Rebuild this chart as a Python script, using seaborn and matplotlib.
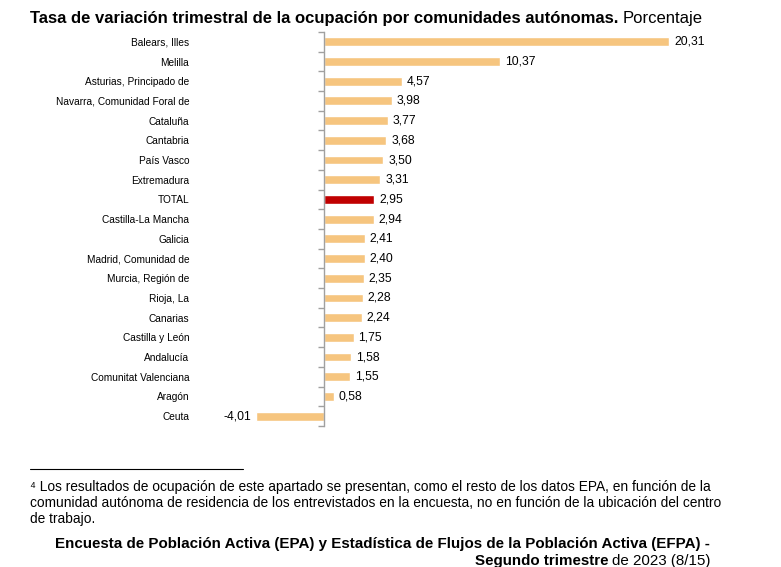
import matplotlib
matplotlib.use("Agg")
import matplotlib.pyplot as plt
from matplotlib.ticker import FixedLocator
import pandas as pd
import seaborn as sns

sns.set_theme(style="white")
plt.rcParams['font.family'] = ['Liberation Sans', 'DejaVu Sans']
plt.rcParams['text.color'] = 'black'

regions = ["Balears, Illes", "Melilla", "Asturias, Principado de",
           "Navarra, Comunidad Foral de", "Cataluña", "Cantabria", "País Vasco",
           "Extremadura", "TOTAL", "Castilla-La Mancha", "Galicia",
           "Madrid, Comunidad de", "Murcia, Región de", "Rioja, La", "Canarias",
           "Castilla y León", "Andalucía", "Comunitat Valenciana", "Aragón", "Ceuta"]
rates = [20.31, 10.37, 4.57, 3.98, 3.77, 3.68, 3.50, 3.31, 2.95, 2.94,
         2.41, 2.40, 2.35, 2.28, 2.24, 1.75, 1.58, 1.55, 0.58, -4.01]

bar_color = "#F6C57F"
total_color = "#C00000"

df = pd.DataFrame({"region": regions, "rate": rates})
palette = {r: (total_color if r == "TOTAL" else bar_color) for r in regions}

fig = plt.figure(figsize=(7.81, 5.67), dpi=100)
ax = fig.add_axes([0.306, 0.2487, 0.5875, 0.6949])

sns.barplot(data=df, x="rate", y="region", hue="region", palette=palette,
            order=regions, width=0.45, legend=False, ax=ax, saturation=1)

ax.set_xlim(-5, 22)
ax.set_ylim(len(regions) - 0.5, -0.5)
ax.set_xlabel("")
ax.set_ylabel("")
ax.set_xticks([])
for s in ["top", "right", "bottom"]:
    ax.spines[s].set_visible(False)
ax.spines["left"].set_position(("data", 0))
ax.spines["left"].set_color("#A0A0A0")
ax.spines["left"].set_linewidth(1)

ax.tick_params(axis="y", which="major", length=0, pad=97, labelsize=7.3,
               labelcolor="black")
ax.yaxis.set_minor_locator(FixedLocator([i - 0.5 for i in range(len(regions) + 1)]))
ax.tick_params(axis="y", which="minor", left=True, length=4, width=1,
               color="#A0A0A0", direction="out")

for i, v in enumerate(rates):
    txt = f"{v:.2f}".replace(".", ",")
    if v >= 0:
        ax.annotate(txt, (v, i), xytext=(3.5, 0), textcoords="offset points",
                    ha="left", va="center", fontsize=8.7, color="black")
    else:
        ax.annotate(txt, (v, i), xytext=(-3.5, 0), textcoords="offset points",
                    ha="right", va="center", fontsize=8.7, color="black")

# title: bold part + normal part
renderer = fig.canvas.get_renderer()
t1 = fig.text(30 / 781, 1 - 18 / 567, "Tasa de variación trimestral de la ocupación por comunidades autónomas.",
              fontsize=12, fontweight="bold", ha="left", va="center")
bb = t1.get_window_extent(renderer)
fig.text((bb.x1 + 4) / 781, 1 - 18 / 567, "Porcentaje", fontsize=12,
         ha="left", va="center")

# footnote
fig.add_artist(plt.Line2D([30 / 781, 243 / 781], [1 - 469 / 567, 1 - 469 / 567],
                          color="black", linewidth=0.8))
foot = ["\u2074 Los resultados de ocupación de este apartado se presentan, como el resto de los datos EPA, en función de la",
        "comunidad autónoma de residencia de los entrevistados en la encuesta, no en función de la ubicación del centro",
        "de trabajo."]
for k, line in enumerate(foot):
    fig.text(30 / 781, 1 - (487 + 16 * k) / 567, line, fontsize=9.9,
             ha="left", va="center")

fig.text(710 / 781, 1 - 544 / 567,
         "Encuesta de Población Activa (EPA) y Estadística de Flujos de la Población Activa (EFPA) -",
         fontsize=10.9, fontweight="bold", ha="right", va="center")
t2 = fig.text(710 / 781, 1 - 561 / 567, "de 2023 (8/15)", fontsize=10.9,
              ha="right", va="center")
bb2 = t2.get_window_extent(renderer)
fig.text((bb2.x0 - 3) / 781, 1 - 561 / 567, "Segundo trimestre", fontsize=10.9,
         fontweight="bold", ha="right", va="center")

fig.savefig("out.png", dpi=100)
